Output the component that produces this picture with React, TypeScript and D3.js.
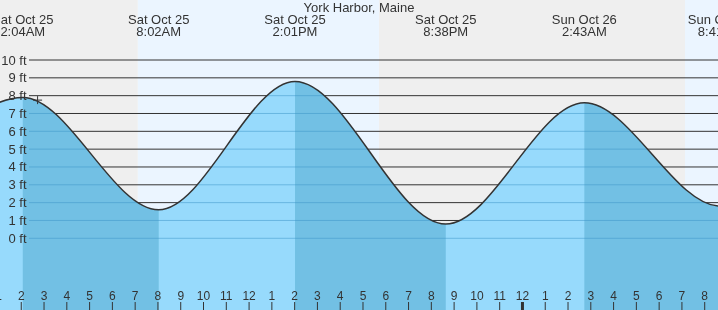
import React from "react";
import * as d3 from "d3";

const W = 718;
const H = 310;

const title = "York Harbor, Maine";
// tide extremes (local time) and heights in ft
const tideTimes = [
  "2025-10-24T19:55",
  "2025-10-25T02:04",
  "2025-10-25T08:02",
  "2025-10-25T14:01",
  "2025-10-25T20:38",
  "2025-10-26T02:43",
  "2025-10-26T08:41",
  "2025-10-26T14:55",
];
const tideHeights = [1.1, 7.9, 1.6, 8.8, 0.8, 7.6, 1.8, 8.6];
// sunrise, sunset, sunrise
const sunEvents = ["2025-10-25T07:07", "2025-10-25T17:42", "2025-10-26T07:08"];
const viewStart = "2025-10-25T01:04";
const viewEnd = "2025-10-26T08:35";
const yTicks = [0, 1, 2, 3, 4, 5, 6, 7, 8, 9, 10];
const nowTime = "2025-10-25T02:43";
const nowHeight = 7.75;

const parse = (s: string) => new Date(s);
const fmtDay = d3.timeFormat("%a %b %d");
const fmtTime = d3.timeFormat("%-I:%M%p");

export default function App() {
  const x = d3.scaleTime().domain([parse(viewStart), parse(viewEnd)]).range([0, W]);
  const y = d3.scaleLinear().domain([0, 10]).range([238.3, 60]);

  const pts = tideTimes.map((t, i) => ({ t: parse(t), h: tideHeights[i] }));
  const area = d3
    .area<{ t: Date; h: number }>()
    .x((d) => x(d.t))
    .y0(H)
    .y1((d) => y(d.h))
    .curve(d3.curveMonotoneX);
  const line = d3
    .line<{ t: Date; h: number }>()
    .x((d) => x(d.t))
    .y((d) => y(d.h))
    .curve(d3.curveMonotoneX);

  const sun = sunEvents.map(parse);
  const nights = [
    [parse(viewStart), sun[0]],
    [sun[1], sun[2]],
  ];
  const days = [
    [sun[0], sun[1]],
    [sun[2], parse(viewEnd)],
  ];

  const falling: [Date, Date][] = [];
  for (let i = 0; i < pts.length - 1; i++) {
    if (pts[i].h > pts[i + 1].h) falling.push([pts[i].t, pts[i + 1].t]);
  }

  const hours = d3.timeHour.range(
    d3.timeHour.floor(parse(viewStart)),
    d3.timeHour.offset(parse(viewEnd), 1)
  );

  const visible = pts.filter((p) => x(p.t) > -40 && x(p.t) < W + 40);

  const font = "'Liberation Sans', Arial, sans-serif";
  const textCol = "#333";
  const nx = x(parse(nowTime));
  const ny = y(nowHeight);

  return (
    <svg
      width={W}
      height={H}
      style={{ position: "fixed", left: 0, top: 0, display: "block" }}
      fontFamily={font}
    >
      <defs>
        <clipPath id="water">
          <path d={area(pts) || ""} />
        </clipPath>
      </defs>
      {nights.map((n, i) => (
        <rect key={"n" + i} x={x(n[0])} y={0} width={x(n[1]) - x(n[0])} height={H} fill="#efefef" />
      ))}
      {days.map((n, i) => (
        <rect key={"d" + i} x={x(n[0])} y={0} width={x(n[1]) - x(n[0])} height={H} fill="#ebf5ff" />
      ))}
      {yTicks.map((v) => (
        <line key={"g" + v} x1={29} x2={W} y1={y(v)} y2={y(v)} stroke="#333" strokeWidth={1} />
      ))}
      <path d={area(pts) || ""} fill="#97dafc" />
      <g clipPath="url(#water)">
        {falling.map((f, i) => (
          <rect key={"f" + i} x={x(f[0])} y={0} width={x(f[1]) - x(f[0])} height={H} fill="#72c0e4" />
        ))}
        {yTicks.map((v) => (
          <line
            key={"gw" + v}
            x1={29}
            x2={W}
            y1={y(v)}
            y2={y(v)}
            stroke="#3b94c8"
            strokeOpacity={0.5}
            strokeWidth={1}
          />
        ))}
      </g>
      <path d={line(pts) || ""} fill="none" stroke="#333" strokeWidth={1.5} />
      {yTicks.map((v) => (
        <text key={"yl" + v} x={26.5} y={y(v) + 4.5} textAnchor="end" fontSize={13} fill={textCol}>
          {v} ft
        </text>
      ))}
      <text x={W / 2} y={11.5} textAnchor="middle" fontSize={13} fill={textCol}>
        {title}
      </text>
      {visible.map((p, i) => (
        <g key={"h" + i}>
          <text x={x(p.t)} y={24} textAnchor="middle" fontSize={13} fill={textCol}>
            {fmtDay(p.t)}
          </text>
          <text x={x(p.t)} y={36} textAnchor="middle" fontSize={13} fill={textCol}>
            {fmtTime(p.t)}
          </text>
        </g>
      ))}
      {hours.map((h, i) => {
        const hr = h.getHours();
        const lab = hr % 12 === 0 ? 12 : hr % 12;
        const xx = x(h);
        return (
          <g key={"t" + i}>
            <text x={xx} y={300} textAnchor="middle" fontSize={12} fill={textCol}>
              {lab}
            </text>
            <line
              x1={xx}
              x2={xx}
              y1={302}
              y2={H}
              stroke="#333"
              strokeWidth={hr === 0 ? 3 : 1}
            />
          </g>
        );
      })}
      <line x1={nx - 4.5} x2={nx + 4.5} y1={ny} y2={ny} stroke="#333" strokeWidth={1} />
      <line x1={nx} x2={nx} y1={ny - 4} y2={ny + 4} stroke="#333" strokeWidth={1} />
    </svg>
  );
}
